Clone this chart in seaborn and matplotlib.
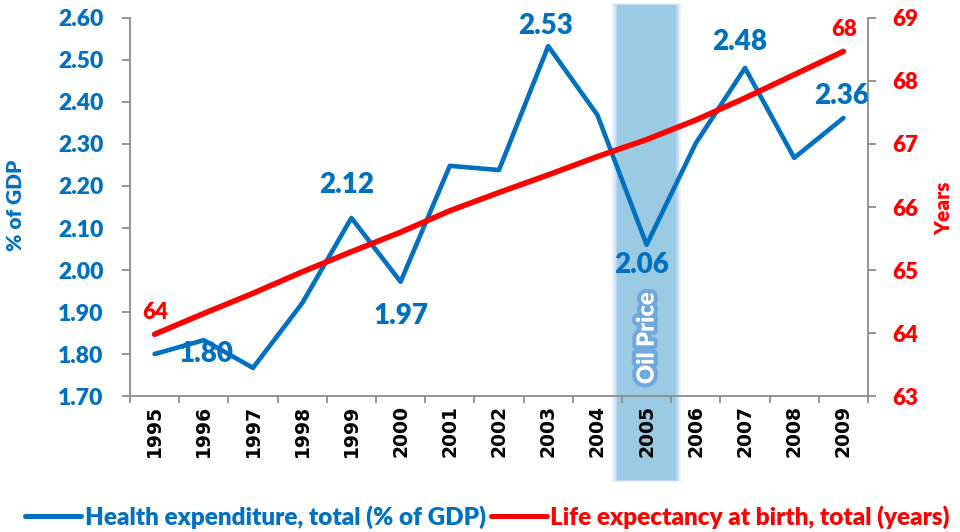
import numpy as np
import pandas as pd
import matplotlib
matplotlib.use("Agg")
import matplotlib.pyplot as plt
import matplotlib.patheffects as pe
from matplotlib.patches import Rectangle
from matplotlib.lines import Line2D
import seaborn as sns

sns.set_theme(style="white")
plt.rcParams["font.family"] = ["Lato", "DejaVu Sans"]

# data
years = [1995, 1996, 1997, 1998, 1999, 2000, 2001, 2002, 2003, 2004, 2005, 2006, 2007, 2008, 2009]
health_exp = [1.80, 1.833, 1.767, 1.921, 2.124, 1.972, 2.248, 2.238, 2.533, 2.369, 2.060, 2.302, 2.481, 2.267, 2.362]
life_exp = [63.98, 64.31, 64.63, 64.97, 65.29, 65.60, 65.94, 66.23, 66.51, 66.80, 67.07, 67.38, 67.73, 68.10, 68.47]
left_ticks = [1.70, 1.80, 1.90, 2.00, 2.10, 2.20, 2.30, 2.40, 2.50, 2.60]
right_ticks = [63, 64, 65, 66, 67, 68, 69]
oil_year = 2005

# which points carry a value label and where (pixel offsets)
health_labels = {1995: (51, 0), 1999: (-5, 33), 2000: (0, -34), 2003: (-3, 20),
                 2005: (-5, -20), 2007: (-5, 26), 2009: (-2, 22)}
life_labels = {1995: (1, 22), 2009: (1, 22)}

blue = "#0070C0"
red = "#FF0000"
grey = "#8C8C8C"

df = pd.DataFrame({"Year": years, "Health": health_exp, "Life": life_exp})

fig = plt.figure(figsize=(9.6, 5.32), dpi=100)
ax = fig.add_axes([0.1354, 0.2556, 0.7688, 0.7106])
ax2 = ax.twinx()

# oil price band with soft edges
trans = matplotlib.transforms.blended_transform_factory(ax.transData, ax.transAxes)
for pad, a in [(0.10, 0.25), (0.06, 0.35), (0.03, 0.5)]:
    ax.add_patch(Rectangle((oil_year - 0.6 - pad, -0.222 - pad * 0.05), 1.2 + 2 * pad, 1.256 + pad * 0.1,
                           transform=trans, color="#A9CCF2", alpha=a, lw=0, zorder=0, clip_on=False))
ax.add_patch(Rectangle((oil_year - 0.6, -0.222), 1.2, 1.256, transform=trans,
                       color="#9BCBE3", lw=0, zorder=0, clip_on=False))
ax.text(oil_year, 0.153, "Oil Price", transform=trans, rotation=90, ha="center", va="center",
        color="white", fontsize=17, fontweight="heavy", zorder=1,
        path_effects=[pe.withStroke(linewidth=6, foreground="#6FA8DC")])

sns.lineplot(data=df, x="Year", y="Health", ax=ax, color=blue, lw=3.3, zorder=2)
sns.lineplot(data=df, x="Year", y="Life", ax=ax2, color=red, lw=4, zorder=3)

for yr, (dx, dy) in health_labels.items():
    v = health_exp[years.index(yr)]
    ax.annotate(f"{v:.2f}", (yr, v), xytext=(dx, dy), textcoords="offset pixels",
                ha="center", va="center", color=blue, fontsize=20, fontweight="heavy")
for yr, (dx, dy) in life_labels.items():
    v = life_exp[years.index(yr)]
    ax2.annotate(f"{round(v)}", (yr, v), xytext=(dx, dy), textcoords="offset pixels",
                 ha="center", va="center", color=red, fontsize=16, fontweight="heavy")

ax.set_xlim(years[0] - 0.5, years[-1] + 0.5)
ax.set_ylim(left_ticks[0], left_ticks[-1])
ax2.set_ylim(right_ticks[0], right_ticks[-1])

ax.set_xticks(years)
ax.set_xticklabels([str(y) for y in years], rotation=90, fontsize=13.5,
                   fontweight="bold", family="DejaVu Sans", color="black")
ax.set_xticks(np.arange(years[0] - 0.5, years[-1] + 1), minor=True)
ax.tick_params(axis="x", which="major", length=0, pad=6.5)
ax.tick_params(axis="x", which="minor", length=5, width=1.3, color=grey, direction="out", bottom=True)

ax.set_yticks(left_ticks)
ax.set_yticklabels([f"{t:.2f}" for t in left_ticks], fontsize=16.5, fontweight="heavy", color=blue)
ax.tick_params(axis="y", length=5.5, width=1.3, color=grey, direction="out", left=True, pad=13.5)
ax2.set_yticks(right_ticks)
ax2.set_yticklabels([str(t) for t in right_ticks], fontsize=16, fontweight="heavy", color=red)
ax2.tick_params(axis="y", length=5.5, width=1.3, color=grey, direction="out", right=True, pad=12)

ax.set_xlabel("")
ax.set_ylabel("% of GDP", color=blue, fontsize=15, fontweight="heavy")
ax.yaxis.set_label_coords(-0.142, 0.505)
ax2.set_ylabel("Years", color=red, fontsize=15, fontweight="heavy")
ax2.yaxis.set_label_coords(1.090, 0.497)

for a in (ax, ax2):
    a.spines["top"].set_visible(False)
    for s in ("left", "right", "bottom"):
        a.spines[s].set_color(grey)
        a.spines[s].set_linewidth(1.3)
ax.spines["right"].set_visible(False)
ax2.spines["left"].set_visible(False)
ax2.spines["bottom"].set_visible(False)
ax.grid(False)
ax2.grid(False)

handles = [Line2D([], [], color=blue, lw=3.6), Line2D([], [], color=red, lw=3.6)]
fig.legend(handles, ["Health expenditure, total (% of GDP)", "Life expectancy at birth, total (years)"],
           loc="center", bbox_to_anchor=(0.508, 0.028), ncol=2, frameon=False,
           labelcolor=[blue, red], prop={"size": 17.5, "weight": "heavy"},
           handlelength=2.3, handletextpad=0.15, columnspacing=0.2, borderaxespad=0)

fig.savefig("out.png", dpi=100)
